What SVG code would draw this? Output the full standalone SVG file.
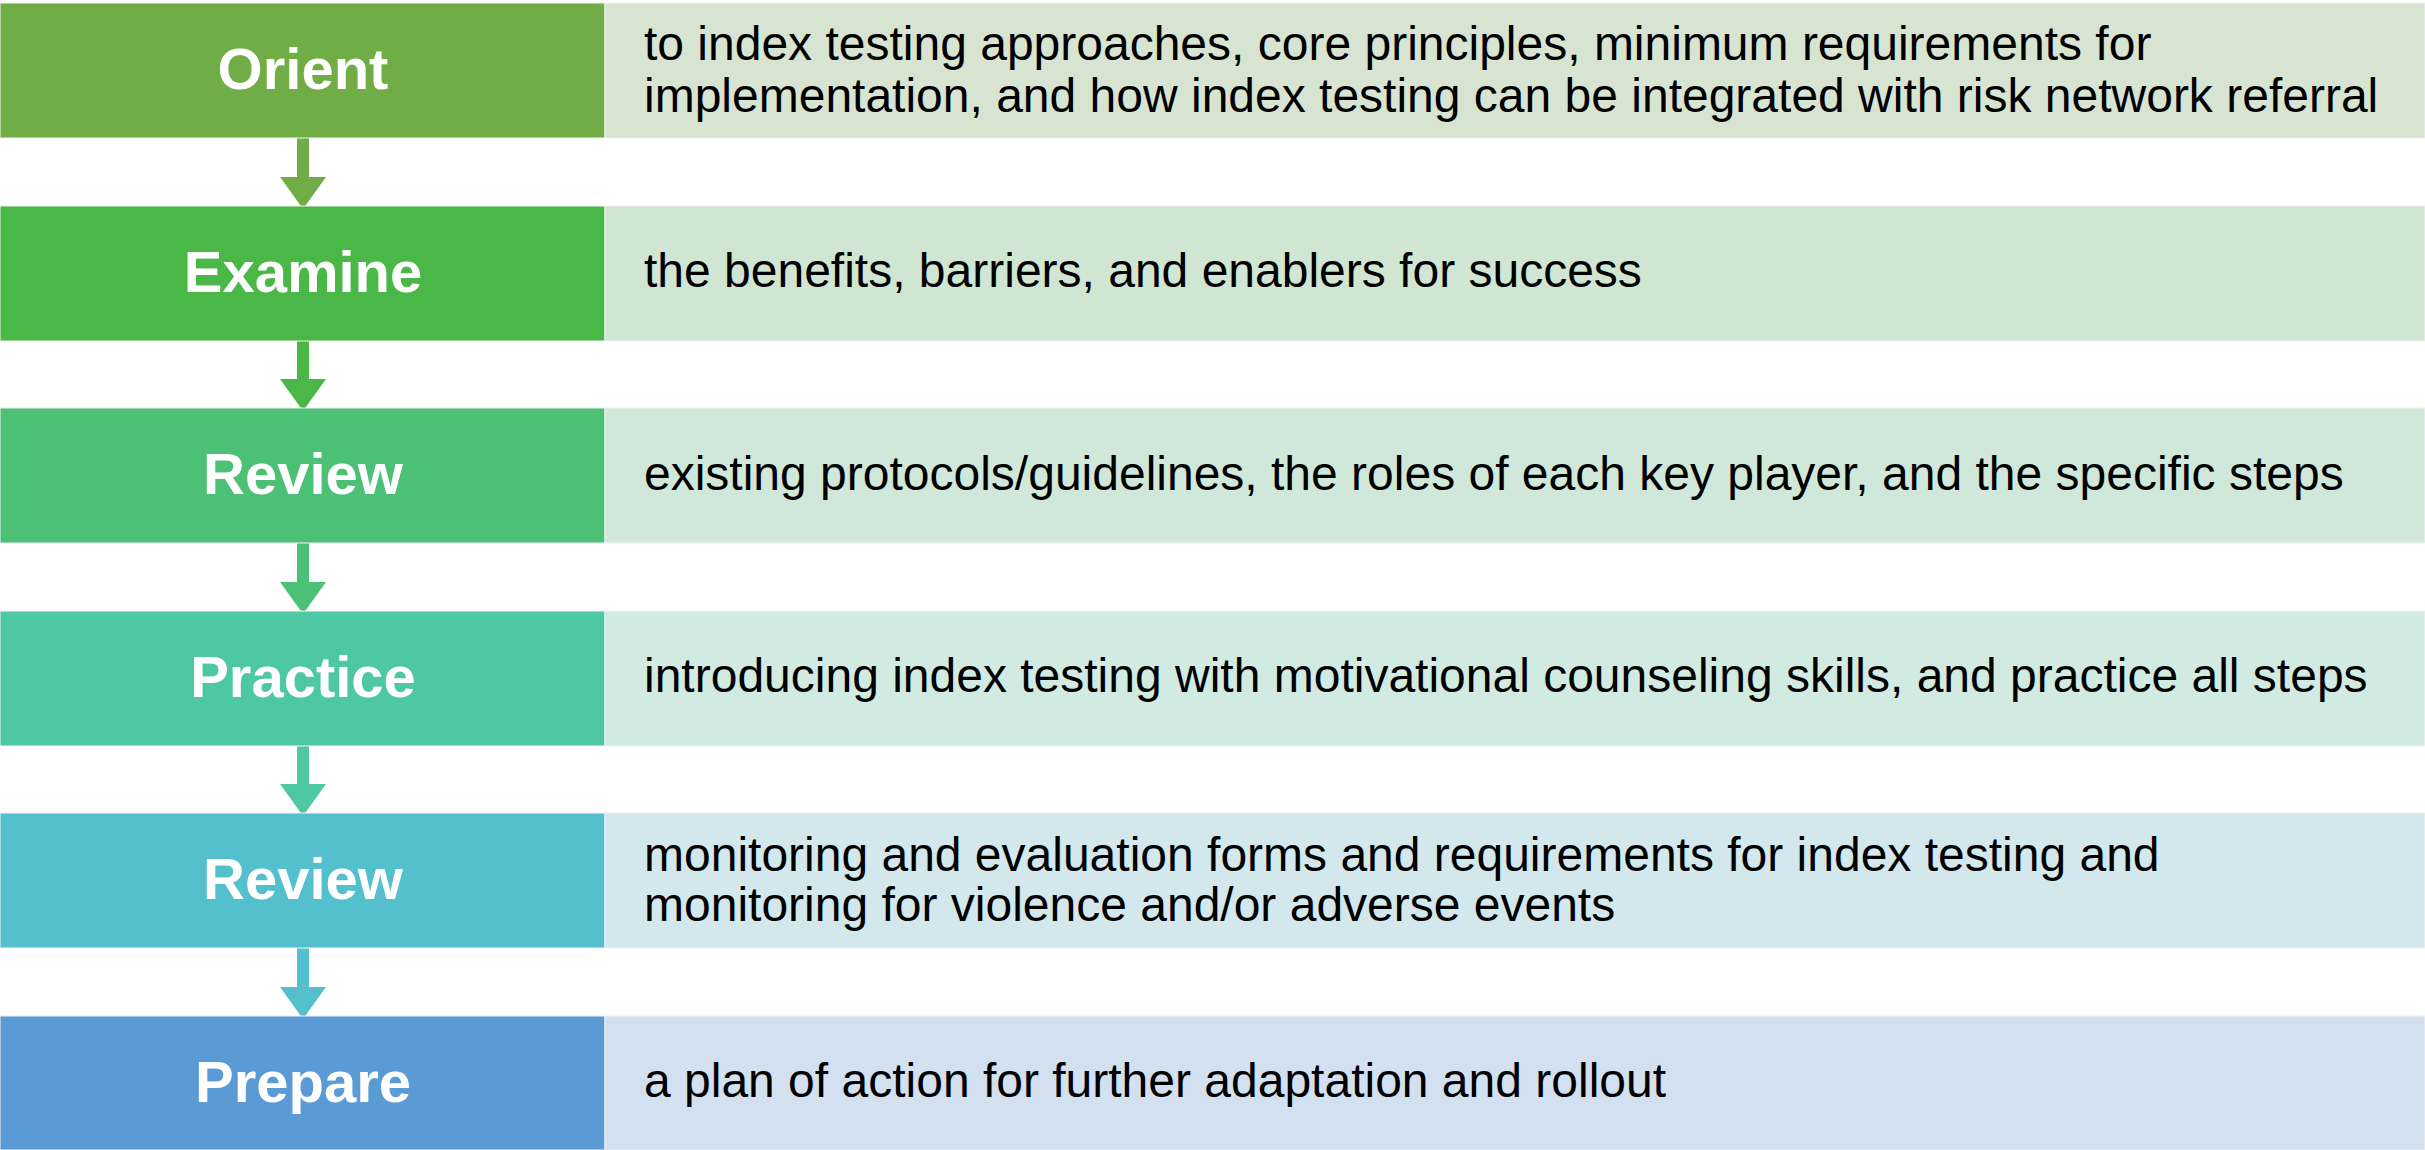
<svg xmlns="http://www.w3.org/2000/svg" width="2425" height="1150" viewBox="0 0 2425 1150">
<style>
.lbl{font-family:"Liberation Sans",Arial,sans-serif;font-weight:bold;font-size:58px;fill:#fff;text-anchor:middle}
.desc{font-family:"Liberation Sans",Arial,sans-serif;font-size:48px;fill:#000}
.b{stroke:#f2f2f2;stroke-width:1}
</style>
<rect width="2425" height="1150" fill="#fff"/>
<g id="connectors">
<g fill="#70AD47"><rect x="297" y="138" width="12" height="40"/><polygon points="280,177 326,177 303,209"/></g>
<g fill="#4AB847"><rect x="297" y="341" width="12" height="39"/><polygon points="280,379 326,379 303,411"/></g>
<g fill="#4CC176"><rect x="297" y="543" width="12" height="40"/><polygon points="280,582 326,582 303,614"/></g>
<g fill="#4EC8A2"><rect x="297" y="746" width="12" height="39"/><polygon points="280,784 326,784 303,816"/></g>
<g fill="#55C0CD"><rect x="297" y="948" width="12" height="40"/><polygon points="280,987 326,987 303,1019"/></g>
</g>
<g id="orient">
<rect class="b" x="0" y="3" width="605" height="135" fill="#70AD47"/>
<rect class="b" x="605" y="3" width="1820" height="135" fill="#D8E4D2"/>
<text class="lbl" x="303" y="89">Orient</text>
<text class="desc" x="644" y="60">to index testing approaches, core principles, minimum requirements for</text>
<text class="desc" x="644" y="112">implementation, and how index testing can be integrated with risk network referral</text>
</g>
<g id="examine">
<rect class="b" x="0" y="206" width="605" height="135" fill="#4AB847"/>
<rect class="b" x="605" y="206" width="1820" height="135" fill="#D1E5D3"/>
<text class="lbl" x="303" y="292">Examine</text>
<text class="desc" x="644" y="287">the benefits, barriers, and enablers for success</text>
</g>
<g id="review1">
<rect class="b" x="0" y="408" width="605" height="135" fill="#4CC176"/>
<rect class="b" x="605" y="408" width="1820" height="135" fill="#D0E8DA"/>
<text class="lbl" x="303" y="494">Review</text>
<text class="desc" x="644" y="490">existing protocols/guidelines, the roles of each key player, and the specific steps</text>
</g>
<g id="practice">
<rect class="b" x="0" y="611" width="605" height="135" fill="#4EC8A2"/>
<rect class="b" x="605" y="611" width="1820" height="135" fill="#D1EBE3"/>
<text class="lbl" x="303" y="697">Practice</text>
<text class="desc" x="644" y="692">introducing index testing with motivational counseling skills, and practice all steps</text>
</g>
<g id="review2">
<rect class="b" x="0" y="813" width="605" height="135" fill="#55C0CD"/>
<rect class="b" x="605" y="813" width="1820" height="135" fill="#D3E8EC"/>
<text class="lbl" x="303" y="899">Review</text>
<text class="desc" x="644" y="871">monitoring and evaluation forms and requirements for index testing and</text>
<text class="desc" x="644" y="921">monitoring for violence and/or adverse events</text>
</g>
<g id="prepare">
<rect class="b" x="0" y="1016" width="605" height="134" fill="#5A9BD5"/>
<rect class="b" x="605" y="1016" width="1820" height="134" fill="#D3E0EF"/>
<text class="lbl" x="303" y="1102">Prepare</text>
<text class="desc" x="644" y="1097">a plan of action for further adaptation and rollout</text>
</g>
</svg>
